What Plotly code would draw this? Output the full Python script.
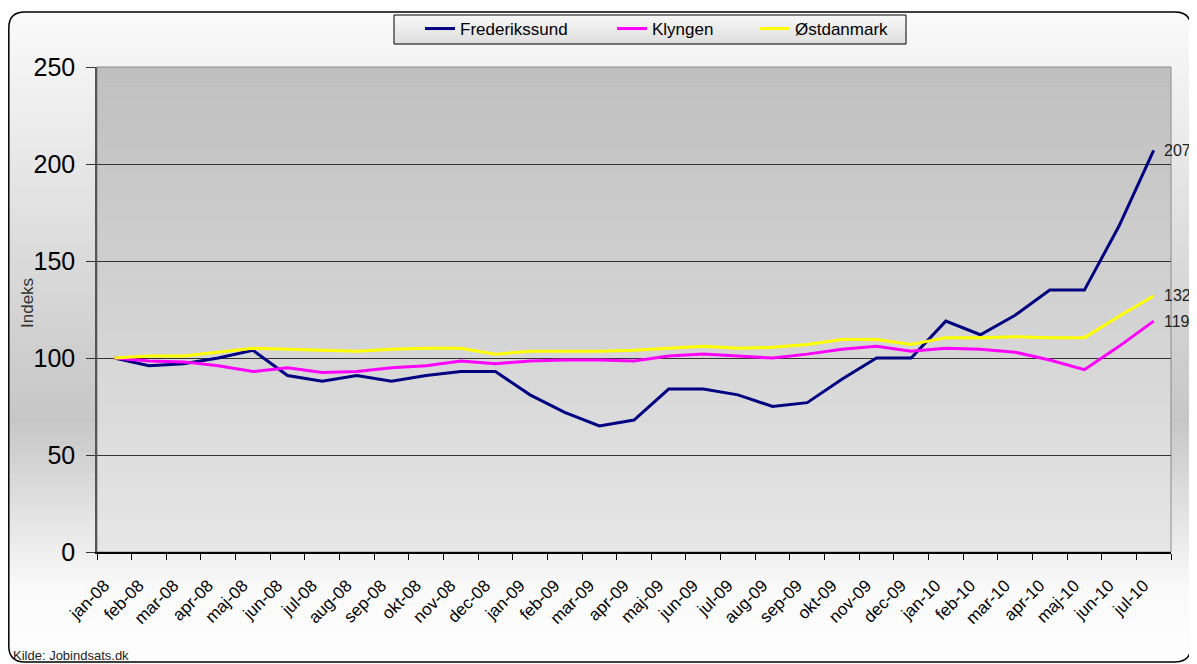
import plotly.graph_objects as go

# --- data ---
months = ["jan-08", "feb-08", "mar-08", "apr-08", "maj-08", "jun-08", "jul-08", "aug-08",
          "sep-08", "okt-08", "nov-08", "dec-08", "jan-09", "feb-09", "mar-09", "apr-09",
          "maj-09", "jun-09", "jul-09", "aug-09", "sep-09", "okt-09", "nov-09", "dec-09",
          "jan-10", "feb-10", "mar-10", "apr-10", "maj-10", "jun-10", "jul-10"]

frederikssund = [100, 96, 97, 100, 104, 91, 88, 91, 88, 91, 93, 93, 81, 72, 65, 68,
                 84, 84, 81, 75, 77, 89, 100, 100, 119, 112, 122, 135, 135, 168, 207]
klyngen = [100, 98.5, 98, 96, 93, 95, 92.5, 93, 95, 96, 98.5, 97, 98.5, 99, 99, 98.5,
           101, 102, 101, 100, 102, 104.5, 106, 103.5, 105, 104.5, 103, 99, 94, 106, 119]
ostdanmark = [100, 101, 101, 103, 105, 104.5, 104, 103.5, 104.5, 105, 105, 102, 103.5, 103.5,
              103.5, 104, 105, 106, 105, 105.5, 107, 109.5, 109.5, 107, 110.5, 110.5, 111,
              110.5, 110.5, 121.5, 132]

series_names = ["Frederikssund", "Klyngen", "Østdanmark"]
series_values = [frederikssund, klyngen, ostdanmark]
series_colors = ["#000080", "#FF00FF", "#FFFF00"]

# --- geometry: figure sits 8px into the page (body margin) ---
OFF = 8
W, H = 1197 - OFF, 664 - OFF

FONT = "Liberation Sans, Arial, sans-serif"


def X(x):
    # page pixel -> paper x
    return (x - OFF) / W


def Y(y):
    # page pixel -> paper y
    return 1 - (y - OFF) / H


def grey(y, stops):
    for (y0, g0), (y1, g1) in zip(stops, stops[1:]):
        if y0 <= y <= y1:
            g = int(round(g0 + (g1 - g0) * (y - y0) / (y1 - y0)))
            return "rgb(%d,%d,%d)" % (g, g, g)
    g = stops[-1][1]
    return "rgb(%d,%d,%d)" % (g, g, g)


def bands(xa, xb, ya, yb, stops, n):
    out = []
    for i in range(n):
        t0 = ya + (yb - ya) * i / n
        t1 = ya + (yb - ya) * (i + 1) / n
        out.append(dict(type="rect", xref="paper", yref="paper",
                        x0=X(xa), x1=X(xb), y0=Y(t1 + 0.6), y1=Y(t0),
                        fillcolor=grey((t0 + t1) / 2, stops),
                        line=dict(width=0), layer="below"))
    return out


PL, PR, PT, PB = 97, 1171, 67, 552   # plot area in page pixels

shapes = []
# chart area: light at top and bottom, grey through the middle
shapes += bands(9, 1190, 13, 661, [(13, 250), (420, 198), (590, 250), (661, 254)], 90)
# plot area: darker at the top
shapes += bands(PL, PR, PT, PB, [(PT, 191), (PB, 230)], 60)
# plot area border
shapes.append(dict(type="rect", xref="paper", yref="paper",
                   x0=X(PL), x1=X(PR), y0=Y(PB), y1=Y(PT),
                   line=dict(color="#8c8c8c", width=1), layer="below"))
# legend box
shapes += bands(394, 906, 15, 44, [(15, 248), (44, 222)], 10)
shapes.append(dict(type="rect", xref="paper", yref="paper",
                   x0=X(394), x1=X(906), y0=Y(44), y1=Y(15),
                   line=dict(color="black", width=1), layer="below"))

# rounded outer frame
fx0, fy0, fx1, fy1, r = 8.8, 12, 1191, 662, 16
frame = ("M {a},{b} L {c},{b} Q {d},{b} {d},{e} L {d},{f} Q {d},{g} {c},{g} "
         "L {a},{g} Q {h},{g} {h},{f} L {h},{e} Q {h},{b} {a},{b} Z").format(
    a=X(fx0 + r), b=Y(fy0), c=X(fx1 - r), d=X(fx1), e=Y(fy0 + r),
    f=Y(fy1 - r), g=Y(fy1), h=X(fx0))
shapes.append(dict(type="path", xref="paper", yref="paper", path=frame,
                   line=dict(color="black", width=1.5), layer="above"))

fig = go.Figure()
legend_ids = ["legend", "legend2", "legend3"]
for name, vals, color, lg in zip(series_names, series_values, series_colors, legend_ids):
    fig.add_trace(go.Scatter(x=months, y=vals, mode="lines", name=name, legend=lg,
                             line=dict(color=color, width=3)))

annotations = []
for vals in series_values:
    annotations.append(dict(x=months[-1], y=vals[-1], xref="x", yref="y",
                            text="%d" % round(vals[-1]), showarrow=False,
                            xanchor="left", yanchor="middle", xshift=8,
                            font=dict(family=FONT, size=16, color="#222222")))

annotations.append(dict(x=X(27), y=Y(303), xref="paper", yref="paper",
                        text="Indeks", textangle=-90, showarrow=False,
                        xanchor="center", yanchor="middle",
                        font=dict(family=FONT, size=17, color="#333333")))

annotations.append(dict(x=X(11), y=Y(655), xref="paper", yref="paper",
                        text="Kilde: Jobindsats.dk", showarrow=False,
                        xanchor="left", yanchor="middle",
                        font=dict(family=FONT, size=13, color="#222222")))

legend_style = dict(orientation="h", xanchor="left", y=Y(29), yanchor="middle",
                    bgcolor="rgba(0,0,0,0)", borderwidth=0,
                    font=dict(family=FONT, size=17, color="black"))

fig.update_layout(
    width=W, height=H, autosize=False,
    margin=dict(l=0, r=0, t=0, b=0, autoexpand=False),
    paper_bgcolor="white",
    plot_bgcolor="rgba(0,0,0,0)",
    font=dict(family=FONT, color="black"),
    shapes=shapes,
    annotations=annotations,
    showlegend=True,
    legend=dict(x=X(420), **legend_style),
    legend2=dict(x=X(612), **legend_style),
    legend3=dict(x=X(755), **legend_style),
    xaxis=dict(type="category", categoryorder="array", categoryarray=months,
               range=[-0.5, len(months) - 0.5], domain=[X(PL), X(PR)],
               automargin=False,
               tickson="boundaries", ticks="outside", ticklen=6, tickcolor="black",
               showline=True, linecolor="black", linewidth=2, showgrid=False,
               tickangle=-45, tickfont=dict(family=FONT, size=17, color="black"),
               ticklabelstandoff=15, ticklabelshift=-10),
    yaxis=dict(range=[0, 250], dtick=50, domain=[Y(PB), Y(PT)],
               automargin=False,
               ticks="outside", ticklen=9, tickcolor="#333333",
               showline=True, linecolor="#555555", linewidth=1.5,
               showgrid=True, gridcolor="#333333", gridwidth=1, zeroline=False,
               tickfont=dict(family=FONT, size=25, color="black"),
               ticklabelstandoff=6),
)

fig.write_html("out.html")
